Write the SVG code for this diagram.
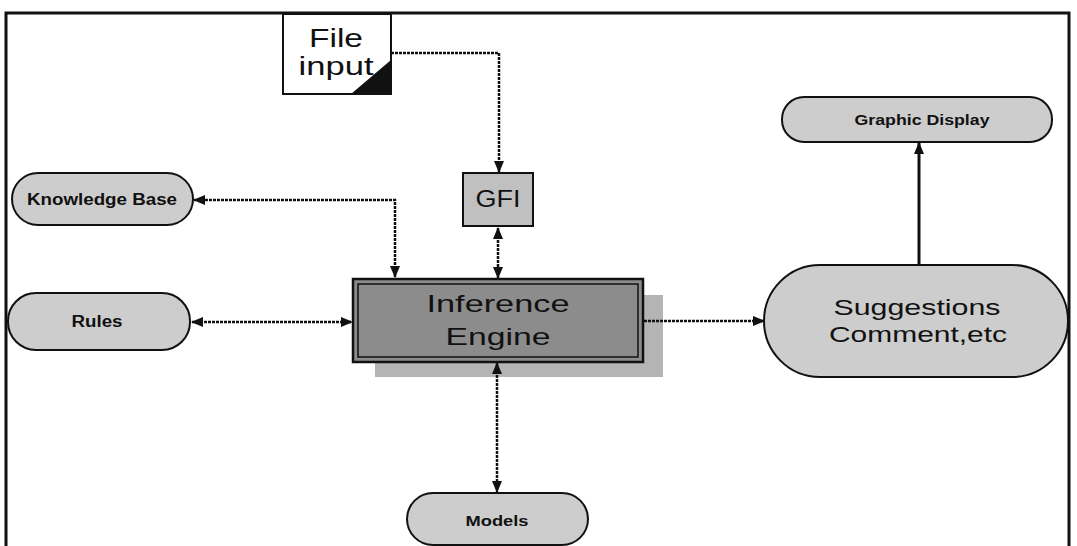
<svg xmlns="http://www.w3.org/2000/svg" width="1077" height="546" viewBox="0 0 1077 546">
<style>
  .txt{font-family:"Liberation Sans",Arial,sans-serif;fill:#111;text-anchor:middle}
  .sm{font-weight:bold}
  .oval{fill:#cdcdcd;stroke:#111;stroke-width:2}
  .con{fill:none;stroke:#111;stroke-width:2.5;stroke-dasharray:3 1}
  .solid{fill:none;stroke:#111;stroke-width:3}
</style>
<defs>
  <marker id="ah" viewBox="0 0 12 10" refX="11" refY="5" markerWidth="12" markerHeight="10" markerUnits="userSpaceOnUse" orient="auto-start-reverse">
    <path d="M0,0 L12,5 L0,10 Z" fill="#111"/>
  </marker>
</defs>
<rect width="1077" height="546" fill="#fff"/>
<path d="M6,560 V13 H1069 V560" fill="none" stroke="#111" stroke-width="3"/>

<g id="file-input">
  <rect x="283" y="14" width="108" height="80" fill="#fff" stroke="#111" stroke-width="2"/>
  <path d="M391,60 L391,94 L351,94 Z" fill="#111"/>
  <text class="txt" x="336" y="47" font-size="25" textLength="54" lengthAdjust="spacingAndGlyphs">File</text>
  <text class="txt" x="336" y="75" font-size="25" textLength="75" lengthAdjust="spacingAndGlyphs">input</text>
</g>

<g id="gfi">
  <rect x="463" y="173" width="70" height="53" fill="#c0c0c0" stroke="#111" stroke-width="2"/>
  <text class="txt" x="498" y="207" font-size="23" textLength="45" lengthAdjust="spacingAndGlyphs">GFI</text>
</g>

<g id="knowledge-base">
  <rect class="oval" x="12" y="173" width="181" height="52" rx="26"/>
  <text class="txt sm" x="102" y="205" font-size="16" textLength="150" lengthAdjust="spacingAndGlyphs">Knowledge Base</text>
</g>

<g id="rules">
  <rect class="oval" x="8" y="293" width="182" height="57" rx="28"/>
  <text class="txt sm" x="97" y="327" font-size="16" textLength="51" lengthAdjust="spacingAndGlyphs">Rules</text>
</g>

<g id="inference-engine">
  <rect x="375" y="295" width="288" height="82" fill="#b4b4b4"/>
  <rect x="353" y="279" width="290" height="83" fill="#8c8c8c" stroke="#111" stroke-width="2.5"/>
  <rect x="358" y="284" width="280" height="73" fill="none" stroke="#111" stroke-width="1.5"/>
  <text class="txt" x="498" y="312" font-size="24" textLength="143" lengthAdjust="spacingAndGlyphs">Inference</text>
  <text class="txt" x="498" y="345" font-size="24" textLength="105" lengthAdjust="spacingAndGlyphs">Engine</text>
</g>

<g id="suggestions">
  <rect class="oval" x="764" y="265" width="304" height="112" rx="56"/>
  <text class="txt" x="917" y="315" font-size="22" textLength="167" lengthAdjust="spacingAndGlyphs">Suggestions</text>
  <text class="txt" x="918" y="342" font-size="22" textLength="178" lengthAdjust="spacingAndGlyphs">Comment,etc</text>
</g>

<g id="graphic-display">
  <rect class="oval" x="782" y="97" width="270" height="45" rx="22"/>
  <text class="txt sm" x="922" y="125" font-size="14" textLength="135" lengthAdjust="spacingAndGlyphs">Graphic Display</text>
</g>

<g id="models">
  <rect class="oval" x="407" y="493" width="181" height="52" rx="26"/>
  <text class="txt sm" x="497" y="526" font-size="15" textLength="63" lengthAdjust="spacingAndGlyphs">Models</text>
</g>

<g id="connectors">
  <path class="con" d="M391,53 H499 V172" marker-end="url(#ah)"/>
  <path class="con" d="M395,277 V200 H194" marker-start="url(#ah)" marker-end="url(#ah)"/>
  <path class="con" d="M498,228 V278" marker-start="url(#ah)" marker-end="url(#ah)"/>
  <path class="con" d="M192,322 H352" marker-start="url(#ah)" marker-end="url(#ah)"/>
  <path class="con" d="M644,321 H764" marker-end="url(#ah)"/>
  <path class="solid" d="M919,265 V143" marker-end="url(#ah)"/>
  <path class="con" d="M497,363 V492" marker-start="url(#ah)" marker-end="url(#ah)"/>
</g>
</svg>
